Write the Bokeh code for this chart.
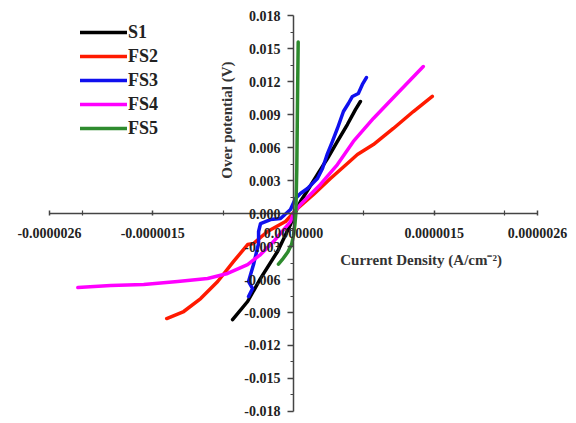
import math

from bokeh.embed import file_html
from bokeh.models import (FixedTicker, Label, Legend, LegendItem,
                          PrintfTickFormatter, Range1d)
from bokeh.plotting import figure
from bokeh.resources import INLINE

FONT = "Liberation Serif"

# axis extents and ticks
x_bounds = (-2.6e-6, 2.6e-6)
y_bounds = (-0.018, 0.018)
x_ticks = [-2.6e-6, -1.5e-6, 0.0, 1.5e-6, 2.6e-6]
x_minor = [-2.25e-6, -0.75e-6, 0.75e-6, 2.25e-6]
y_ticks = [-0.018, -0.015, -0.012, -0.009, -0.006, -0.003, 0.0,
           0.003, 0.006, 0.009, 0.012, 0.015, 0.018]
y_minor = [-0.0165, -0.0135, -0.0105, -0.0075, -0.0045, -0.0015,
           0.0015, 0.0045, 0.0075, 0.0105, 0.0135, 0.0165]

# current density (A/cm^2) vs over potential (V)
s1_j = [-6.49e-7, -4.89e-7, -3.51e-7, -1.70e-7, -0.32e-7, 0.0, 0.74e-7,
        1.49e-7, 2.55e-7, 3.62e-7, 4.68e-7, 5.74e-7, 6.60e-7, 7.13e-7]
s1_v = [-0.00964, -0.0080, -0.0059, -0.00345, -0.0010, -0.00027, 0.00109,
        0.00209, 0.00355, 0.0050, 0.00655, 0.00809, 0.00945, 0.01018]

fs2_j = [-1.351e-6, -1.170e-6, -0.989e-6, -0.808e-6, -0.638e-6, -0.489e-6,
         -0.426e-6, -0.277e-6, -0.085e-6, 0.043e-6, 0.213e-6, 0.394e-6,
         0.574e-6, 0.681e-6, 0.851e-6, 1.064e-6, 1.277e-6, 1.479e-6]
fs2_v = [-0.00955, -0.00891, -0.00773, -0.00618, -0.00436, -0.00282,
         -0.00273, -0.00164, -0.00073, 0.00045, 0.00173, 0.00318,
         0.00455, 0.00536, 0.00627, 0.00773, 0.00927, 0.01064]

fs3_j = [-4.79e-7, -4.36e-7, -4.79e-7, -4.26e-7, -3.72e-7, -3.72e-7,
         -3.51e-7, -2.45e-7, -1.38e-7, -0.32e-7, 0.21e-7, 0.74e-7, 1.49e-7,
         2.55e-7, 3.09e-7, 3.62e-7, 4.15e-7, 4.68e-7, 5.32e-7, 5.85e-7,
         6.28e-7, 6.91e-7, 7.34e-7, 7.77e-7]
fs3_v = [-0.00755, -0.00682, -0.00618, -0.00464, -0.00273, -0.00164,
         -0.00091, -0.00055, -0.00045, 0.00036, 0.00136, 0.00182, 0.00227,
         0.00318, 0.00409, 0.00545, 0.00655, 0.00773, 0.00927, 0.01000,
         0.01064, 0.01091, 0.01173, 0.01236]

fs4_j = [-2.298e-6, -1.947e-6, -1.596e-6, -1.234e-6, -0.915e-6, -0.702e-6,
         -0.489e-6, -0.351e-6, -0.213e-6, -0.032e-6, 0.0, 0.074e-6,
         0.287e-6, 0.468e-6, 0.638e-6, 0.851e-6, 1.106e-6, 1.383e-6]
fs4_v = [-0.00673, -0.00655, -0.00645, -0.00618, -0.00591, -0.00545,
         -0.00464, -0.00373, -0.00255, -0.00073, 0.0, 0.00082,
         0.00264, 0.00445, 0.00655, 0.00864, 0.01091, 0.01336]

fs5_j = [-1.6e-7, -1.2e-7, -0.6e-7, -0.2e-7, 0.0, 0.15e-7, 0.25e-7,
         0.35e-7, 0.4e-7, 0.45e-7, 0.5e-7]
fs5_v = [-0.0046, -0.0042, -0.0035, -0.0028, -0.0020, -0.0010, 0.0,
         0.004, 0.008, 0.012, 0.0156]

series = [
    ("S1", s1_j, s1_v, "#000000"),
    ("FS2", fs2_j, fs2_v, "#ff1a00"),
    ("FS3", fs3_j, fs3_v, "#1010ee"),
    ("FS4", fs4_j, fs4_v, "#ff00ff"),
    ("FS5", fs5_j, fs5_v, "#2e8b2e"),
]

# the plot frame fills the whole canvas so labels at the axis ends are not
# clipped; the axis lines themselves are limited by their bounds
p = figure(width=576, height=423,
           x_range=Range1d(-3.1221e-6, 3.0156e-6),
           y_range=Range1d(-0.019091, 0.019364),
           output_backend="svg", toolbar_location=None,
           min_border_left=0, min_border_right=0,
           min_border_top=0, min_border_bottom=0)
p.grid.visible = False
p.outline_line_color = None
p.background_fill_color = "white"
p.border_fill_color = "white"

# axes crossing at the origin
for ax in (p.xaxis, p.yaxis):
    ax.fixed_location = 0
    ax.axis_line_color = "#444444"
    ax.axis_line_width = 1.5
    ax.major_tick_line_color = "#444444"
    ax.minor_tick_line_color = "#444444"
    ax.major_tick_line_width = 1.5
    ax.minor_tick_line_width = 1.2
    ax.major_label_text_font = FONT
    ax.major_label_text_font_style = "bold"
    ax.major_label_text_font_size = "14px"
    ax.major_label_text_color = "#222222"

p.xaxis.bounds = x_bounds
p.xaxis.ticker = FixedTicker(ticks=x_ticks, minor_ticks=x_minor)
p.xaxis.formatter = PrintfTickFormatter(format="%.7f")
p.xaxis.major_tick_in = 3
p.xaxis.major_tick_out = 2
p.xaxis.minor_tick_in = 3
p.xaxis.minor_tick_out = 2
p.xaxis.major_label_standoff = 12

p.yaxis.bounds = y_bounds
p.yaxis.ticker = FixedTicker(ticks=y_ticks, minor_ticks=y_minor)
p.yaxis.formatter = PrintfTickFormatter(format="%.3f")
p.yaxis.major_tick_in = 0
p.yaxis.major_tick_out = 6
p.yaxis.minor_tick_in = 0
p.yaxis.minor_tick_out = 3
p.yaxis.major_label_standoff = 7

items = []
for name, xs, ys, color in series:
    r = p.line(xs, ys, line_color=color, line_width=3.5, line_join="round",
               line_cap="round")
    items.append(LegendItem(label=name, renderers=[r]))

legend = Legend(items=items, location=(80, 284),
                glyph_width=47, glyph_height=22, spacing=2, padding=0,
                margin=0, label_standoff=1,
                label_text_font=FONT, label_text_font_style="bold",
                label_text_font_size="18px", label_text_color="#222222",
                background_fill_alpha=0, border_line_color=None)
p.add_layout(legend)

p.add_layout(Label(x=-0.71e-6, y=0.0085, text="Over potential (V)",
                   angle=math.pi / 2, text_align="center",
                   text_baseline="middle", text_font=FONT,
                   text_font_style="bold", text_font_size="15px",
                   text_color="#333333"))
p.add_layout(Label(x=1.36e-6, y=-0.0042, text="Current Density (A/cm\u207b\u00b2)",
                   text_align="center", text_baseline="middle",
                   text_font=FONT, text_font_style="bold",
                   text_font_size="15px", text_color="#333333"))

open("out.html", "w").write(file_html(p, INLINE))
